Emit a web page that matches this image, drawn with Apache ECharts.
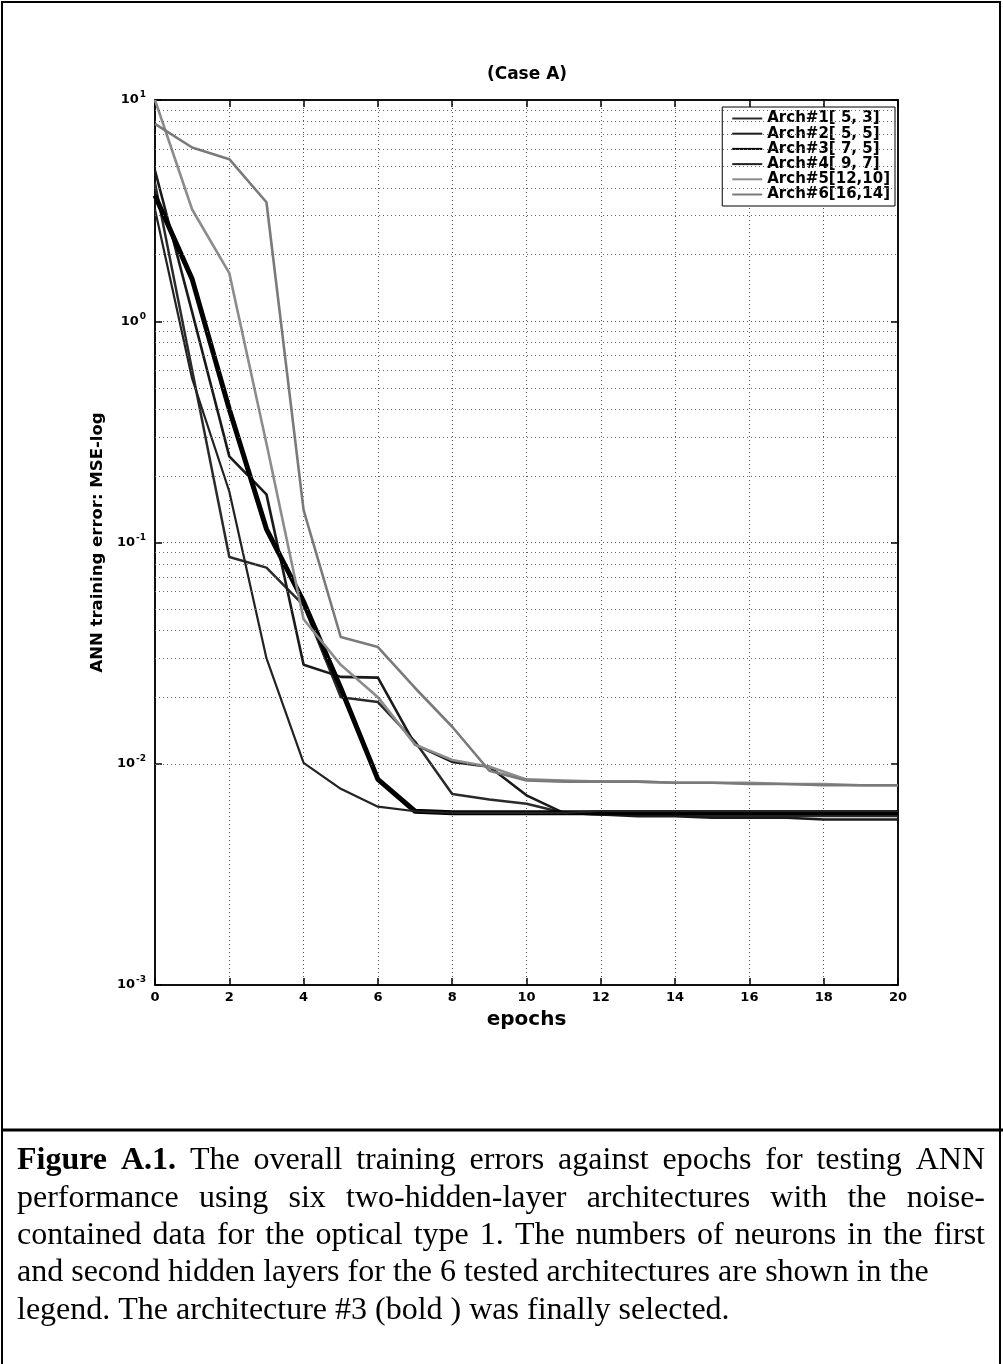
<!DOCTYPE html>
<html><head><meta charset="utf-8">
<script src="https://cdn.jsdelivr.net/npm/echarts@6/dist/echarts.min.js"></script>
<style>html,body{margin:0;padding:0;background:#fff}#c{width:1003px;height:1364px}</style>
</head><body><div id="c"></div>
<script>
// ---------- data ----------
const epochs = [0,1,2,3,4,5,6,7,8,9,10,11,12,13,14,15,16,17,18,19,20];
const arch1 = [4.2, 0.6, 0.086, 0.077, 0.052, 0.020, 0.019, 0.0126, 0.0073, 0.0069, 0.0066, 0.0060, 0.0059, 0.0059, 0.0059, 0.0058, 0.0058, 0.0058, 0.0058, 0.0058, 0.0058];
const arch2 = [4.8, 1.1, 0.245, 0.165, 0.028, 0.0247, 0.0245, 0.0122, 0.0102, 0.0097, 0.0072, 0.0060, 0.0059, 0.0058, 0.0058, 0.0057, 0.0057, 0.0057, 0.0056, 0.0056, 0.0056];
const arch3 = [3.7, 1.55, 0.40, 0.115, 0.054, 0.022, 0.0085, 0.0061, 0.0060, 0.0060, 0.0060, 0.0060, 0.0060, 0.0060, 0.0060, 0.0060, 0.0060, 0.0060, 0.0060, 0.0060, 0.0060];
const arch4 = [3.2, 0.55, 0.17, 0.030, 0.0101, 0.0077, 0.0064, 0.0061, 0.0060, 0.0060, 0.0060, 0.0060, 0.0061, 0.0061, 0.0061, 0.0061, 0.0061, 0.0061, 0.0061, 0.0061, 0.0061];
const arch5 = [10, 3.2, 1.65, 0.28, 0.045, 0.028, 0.020, 0.0122, 0.0104, 0.0097, 0.0085, 0.0084, 0.0083, 0.0083, 0.0082, 0.0082, 0.0082, 0.0081, 0.0081, 0.0080, 0.0080];
const arch6 = [7.8, 6.1, 5.4, 3.45, 0.14, 0.0374, 0.0337, 0.022, 0.0147, 0.0093, 0.0084, 0.0083, 0.0083, 0.0083, 0.0082, 0.0082, 0.0081, 0.0081, 0.0080, 0.0080, 0.0080];
const seriesNames = ['Arch#1[ 5, 3]', 'Arch#2[ 5, 5]', 'Arch#3[ 7, 5]', 'Arch#4[ 9, 7]', 'Arch#5[12,10]', 'Arch#6[16,14]'];
const xTickValues = [0,2,4,6,8,10,12,14,16,18,20];
const yMinorGrid = [0.002,0.003,0.004,0.005,0.006,0.007,0.008,0.009,
                    0.02,0.03,0.04,0.05,0.06,0.07,0.08,0.09,
                    0.2,0.3,0.4,0.5,0.6,0.7,0.8,0.9,
                    2,3,4,5,6,7,8,9];
const titleText = '(Case A)';
const xName = 'epochs';
const yName = 'ANN training error: MSE-log';
const captionLines = [
  [['Figure', true], ['A.1.', true], ['The', false], ['overall', false], ['training', false], ['errors', false], ['against', false], ['epochs', false], ['for', false], ['testing', false], ['ANN', false]],
  'performance using six two-hidden-layer architectures with the noise-',
  'contained data for the optical type 1. The numbers of neurons in the first',
  'and second hidden layers for the 6 tested architectures are shown in the',
  'legend. The architecture #3 (bold ) was finally selected.'
];

// ---------- styles ----------
const styles = [
  {color:'#2a2a2a', width:2.5},
  {color:'#1a1a1a', width:2.6},
  {color:'#000000', width:5},
  {color:'#222222', width:2.2},
  {color:'#8c8c8c', width:2.6},
  {color:'#7a7a7a', width:2.6}
];
const allData = [arch1, arch2, arch3, arch4, arch5, arch6];
const SANS = '"DejaVu Sans", "Liberation Sans", Arial, sans-serif';
const SERIF = '"Liberation Serif", "Times New Roman", serif';

const series = allData.map((arr, i) => ({
  name: seriesNames[i],
  type: 'line',
  data: epochs.map((e, j) => [e, arr[j]]),
  symbol: 'none',
  z: 3,
  lineStyle: {color: styles[i].color, width: styles[i].width},
  itemStyle: {color: styles[i].color}
}));
series.unshift({
  name: 'minorGrid', type: 'line', data: [], silent: true, z: 1,
  markLine: {
    silent: true, symbol: ['none', 'none'], label: {show: false},
    lineStyle: {color: '#666', type: [1, 3], width: 1},
    animation: false,
    data: yMinorGrid.map(v => ({yAxis: v}))
  }
});

// ---------- caption layout ----------
const ctx = document.createElement('canvas').getContext('2d');
const capSize = 32;
function fontStr(bold){ return (bold ? 'bold ' : '') + capSize + 'px ' + SERIF; }
function meas(t, bold){ ctx.font = fontStr(bold); return ctx.measureText(t).width; }
const capLeft = 17, capRight = 985, capTop = 1161, capStep = 37.3;
const graphics = [];
captionLines.forEach((ln, li) => {
  const y = capTop + li * capStep;
  const words = Array.isArray(ln) ? ln : ln.split(' ').map(w => [w, false]);
  const justify = li < 3;
  if (justify) {
    const widths = words.map(w => meas(w[0], w[1]));
    const tot = widths.reduce((a, b) => a + b, 0);
    const gap = (capRight - capLeft - tot) / (words.length - 1);
    let x = capLeft;
    words.forEach((w, k) => {
      graphics.push({type: 'text', x: x, y: y, silent: true,
        style: {text: w[0], font: fontStr(w[1]), fill: '#000', textVerticalAlign: 'middle', verticalAlign: 'middle'}});
      x += widths[k] + gap;
    });
  } else {
    graphics.push({type: 'text', x: capLeft, y: y, silent: true,
      style: {text: ln, font: fontStr(false), fill: '#000', textVerticalAlign: 'middle', verticalAlign: 'middle'}});
  }
});
graphics.push({type: 'rect', silent: true, shape: {x: 2, y: 2, width: 998, height: 1400},
  style: {fill: 'none', stroke: '#000', lineWidth: 2}});
graphics.push({type: 'line', silent: true, shape: {x1: 2, y1: 1130, x2: 1003, y2: 1130},
  style: {stroke: '#000', lineWidth: 3}});
graphics.push({type: 'text', x: 527, y: 75, silent: true,
  style: {text: titleText, font: 'bold 17px ' + SANS, fill: '#000', textAlign: 'center', align: 'center', textVerticalAlign: 'middle', verticalAlign: 'middle'}});

// ---------- chart ----------
const chart = echarts.init(document.getElementById('c'), null, {renderer: 'canvas'});
const tickLabelStyle = {fontFamily: SANS, fontWeight: 'bold', fontSize: 13, color: '#000'};
chart.setOption({
  animation: false,
  backgroundColor: '#fff',
  grid: {left: 155, right: 105, top: 100, bottom: 379, show: true, borderColor: '#000', borderWidth: 1.5, backgroundColor: 'transparent'},
  legend: {
    data: seriesNames, orient: 'vertical', right: 108, top: 107,
    backgroundColor: '#fff', borderColor: '#000', borderWidth: 1,
    padding: [4, 5, 4, 10], itemWidth: 30, itemHeight: 2, itemGap: 0.2,
    icon: 'rect',
    textStyle: {fontFamily: SANS, fontWeight: 'bold', fontSize: 15, color: '#000', lineHeight: 15},
    lineStyle: {width: 2}
  },
  xAxis: [{
    type: 'value', min: 0, max: 20, interval: 2, position: 'bottom',
    name: xName, nameLocation: 'middle', nameGap: 25,
    nameTextStyle: {fontFamily: SANS, fontWeight: 'bold', fontSize: 20, color: '#000'},
    axisLine: {show: true, onZero: false, lineStyle: {color: '#000', width: 1.5}},
    axisTick: {show: true, inside: true, length: 7, lineStyle: {color: '#000', width: 1.5}},
    axisLabel: Object.assign({margin: 6, customValues: xTickValues}, tickLabelStyle),
    splitLine: {show: true, lineStyle: {color: '#555', type: [1, 3], width: 1}}
  }, {
    type: 'value', min: 0, max: 20, interval: 2, position: 'top',
    axisLine: {show: true, onZero: false, lineStyle: {color: '#000', width: 1.5}},
    axisTick: {show: true, inside: true, length: 7, lineStyle: {color: '#000', width: 1.5}},
    axisLabel: {show: false}, splitLine: {show: false}
  }],
  yAxis: [{
    type: 'log', logBase: 10, min: 0.001, max: 10, splitNumber: 4,
    name: yName, nameLocation: 'middle', nameGap: 47,
    nameTextStyle: {fontFamily: SANS, fontWeight: 'bold', fontSize: 16.5, color: '#000'},
    axisLine: {show: true, onZero: false, lineStyle: {color: '#000', width: 1.5}},
    axisTick: {show: true, inside: true, length: 7, lineStyle: {color: '#000', width: 1.5}},
    axisLabel: Object.assign({
      margin: 9,
      formatter: v => '10{s|' + Math.round(Math.log10(v)) + '}',
      rich: {s: {fontFamily: SANS, fontWeight: 'bold', fontSize: 9, color: '#000', padding: [0, 0, 10, 1]}}
    }, tickLabelStyle),
    splitLine: {show: true, lineStyle: {color: '#555', type: [1, 3], width: 1}}
  }, {
    type: 'log', logBase: 10, min: 0.001, max: 10, splitNumber: 4, position: 'right',
    axisLine: {show: true, onZero: false, lineStyle: {color: '#000', width: 1.5}},
    axisTick: {show: true, inside: true, length: 7, lineStyle: {color: '#000', width: 1.5}},
    axisLabel: {show: false}, splitLine: {show: false}
  }],
  series: series,
  graphic: graphics
});
</script></body></html>
